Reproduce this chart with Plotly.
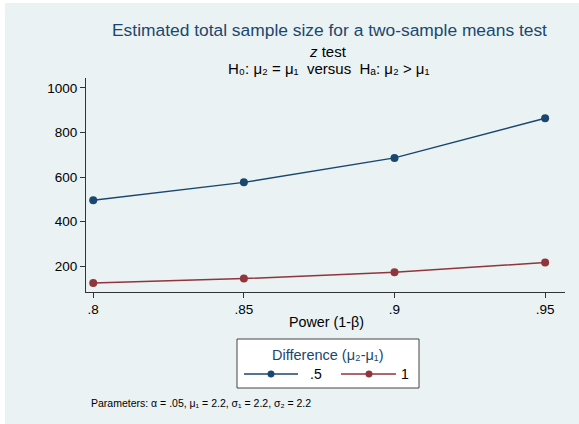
import plotly.graph_objects as go

power = [0.80, 0.85, 0.90, 0.95]
n_diff_05 = [496, 576, 686, 864]
n_diff_1 = [124, 144, 172, 216]
series_names = [".5", "1"]
x_ticks = [0.80, 0.85, 0.90, 0.95]
x_ticklabels = [".8", ".85", ".9", ".95"]
y_ticks = [200, 400, 600, 800, 1000]

FONT = "Liberation Sans, Arial, Helvetica, sans-serif"
BLUE = "#1a476f"
RED = "#90353b"
BG = "#eaf2f3"
AX = "#333333"

W, H = 579, 424
L, R, T, B = 86, 14, 78, 132
pw, ph = W - L - R, H - T - B

def px(x):
    return (x - L) / pw

def py(y):
    return (H - B - y) / ph

colors = [BLUE, RED]
fig = go.Figure()
for name, vals, col in zip(series_names, [n_diff_05, n_diff_1], colors):
    fig.add_trace(go.Scatter(
        x=power, y=vals, name=name, mode="lines+markers",
        line=dict(color=col, width=1.5),
        marker=dict(color=col, size=8, symbol="circle"),
        showlegend=False,
    ))

shapes = [dict(type="rect", xref="paper", yref="paper",
               x0=px(5), x1=px(582), y0=py(427), y1=py(3),
               fillcolor=BG, line=dict(width=0), layer="below")]

# legend box (drawn manually to match the reference's layout)
shapes.append(dict(type="rect", xref="paper", yref="paper",
                   x0=px(237), x1=px(419), y0=py(388), y1=py(339),
                   fillcolor="white", line=dict(color="#444444", width=1)))
leg_y = 374
leg_items = [(244, 298, 271, 308), (341, 396, 369, 411)]
annotations = []
for (lx0, lx1, mx, tx), col, name in zip(leg_items, colors, series_names):
    shapes.append(dict(type="line", xref="paper", yref="paper",
                       x0=px(lx0), x1=px(lx1), y0=py(leg_y), y1=py(leg_y),
                       line=dict(color=col, width=1.5)))
    r = 3.3
    shapes.append(dict(type="circle", xref="paper", yref="paper",
                       x0=px(mx - r), x1=px(mx + r), y0=py(leg_y + r), y1=py(leg_y - r),
                       fillcolor=col, line=dict(color=col, width=0.5)))
    annotations.append(dict(text=name, x=px(tx), y=py(leg_y),
                            xanchor="left" if name == ".5" else "right",
                            font=dict(size=14, color="black")))
annotations.append(dict(text="Difference (μ₂-μ₁)", x=px(328), y=py(355),
                        font=dict(size=14.5, color=BLUE)))

fig.update_layout(
    width=W, height=H,
    margin=dict(l=L, r=R, t=T, b=B),
    paper_bgcolor="white",
    plot_bgcolor="white",
    font=dict(family=FONT, size=13, color="black"),
    showlegend=False,
    shapes=shapes,
)

fig.update_xaxes(
    range=[0.7976, 0.9566],
    tickvals=x_ticks, ticktext=x_ticklabels,
    ticks="outside", ticklen=5, tickcolor=AX, tickwidth=1,
    showline=True, linecolor=AX, linewidth=1,
    showgrid=True, gridcolor=BG, gridwidth=1,
    zeroline=False, tickfont=dict(size=13.5),
)
fig.update_yaxes(
    range=[83.6, 1044.8],
    tickvals=y_ticks,
    ticks="outside", ticklen=5, tickcolor=AX, tickwidth=1,
    showline=True, linecolor=AX, linewidth=1,
    showgrid=True, gridcolor=BG, gridwidth=1,
    zeroline=False, tickfont=dict(size=13.5),
)

annotations += [
    dict(text="Estimated total sample size for a two-sample means test",
         x=px(329), y=py(30), font=dict(size=17.4, color=BLUE)),
    dict(text="<i>z</i> test", x=px(328), y=py(51), font=dict(size=15, color="black")),
    dict(text="H₀: μ₂ = μ₁  versus  Hₐ: μ₂ > μ₁",
         x=px(329), y=py(69), font=dict(size=15, color="black")),
    dict(text="Power (1-β)", x=px(326), y=py(322), font=dict(size=14.3, color="black")),
    dict(text="Parameters: α = .05, μ₁ = 2.2, σ₁ = 2.2, σ₂ = 2.2",
         x=px(89), y=py(403), xanchor="left", font=dict(size=10.5, color="black")),
]
for a in annotations:
    a.setdefault("xanchor", "center")
    fig.add_annotation(xref="paper", yref="paper", yanchor="middle", showarrow=False, **a)

fig.write_html(
    "out.html",
    config={"displayModeBar": False},
    post_script="document.body.style.margin='0px';document.body.style.overflow='hidden';",
)
